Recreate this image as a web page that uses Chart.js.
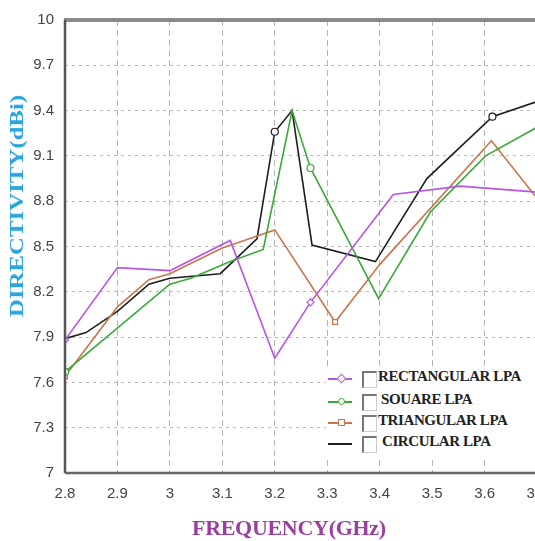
<!DOCTYPE html>
<html>
<head>
<meta charset="utf-8">
<script src="https://cdn.jsdelivr.net/npm/chart.js@4"></script>
<style>
  html, body { margin: 0; padding: 0; background: #fff; overflow: hidden; }
  #wrap { position: relative; width: 535px; height: 541px; overflow: hidden; }
  canvas { position: absolute; left: 0; top: 0; }
  .ttl { position: absolute; font-family: "Liberation Serif", "Times New Roman", serif; font-weight: bold; white-space: nowrap; line-height: 1; }
  #xtitle { left: 192px; top: 517px; font-size: 22px; color: #9a3f9f; letter-spacing: -0.3px; }
  #ytitle { left: 17px; top: 206px; font-size: 18px; color: #2aa4dd; transform: translate(-50%, -50%) rotate(-90deg) scaleX(1.38); }
  #legend { position: absolute; left: 326px; top: 367px; width: 215px; height: 91px; background: #fff; }
  .row { position: absolute; left: 2px; height: 20px; }
  .row .ln { position: absolute; left: 0; top: 9px; width: 24px; height: 2px; }
  .row .mk { position: absolute; left: 10px; top: 6px; width: 5px; height: 5px; border: 1.5px solid; background: #fff; }
  .row .cb { position: absolute; left: 34px; top: 2px; width: 12px; height: 14px; border-left: 2px solid #777; border-top: 2px solid #777; border-right: 1px solid #ccc; border-bottom: 1px solid #ccc; }
  .row .tx { position: absolute; left: 50px; top: -1px; font-family: "Liberation Serif", "Times New Roman", serif; font-weight: bold; font-size: 15px; color: #222; white-space: nowrap; letter-spacing: -0.4px; }
</style>
</head>
<body>
<div id="wrap">
  <canvas id="chart" width="560" height="541"></canvas>
  <div id="ytitle" class="ttl">DIRECTIVITY(dBi)</div>
  <div id="xtitle" class="ttl">FREQUENCY(GHz)</div>
  <div id="legend"></div>
</div>
<script>
/* ── Data ── */
const rectFreq   = [2.8, 2.9, 3.0, 3.115, 3.2, 3.268, 3.426, 3.554, 3.7];
const rectDir    = [7.88, 8.36, 8.34, 8.54, 7.76, 8.13, 8.845, 8.90, 8.86];

const squareFreq = [2.8, 3.0, 3.04, 3.115, 3.178, 3.233, 3.268, 3.398, 3.497, 3.602, 3.7];
const squareDir  = [7.67, 8.25, 8.29, 8.40, 8.48, 9.40, 9.02, 8.155, 8.73, 9.10, 9.29];

const triFreq    = [2.8, 2.9, 2.96, 3.0, 3.1, 3.2, 3.315, 3.4, 3.613, 3.7];
const triDir     = [7.64, 8.10, 8.28, 8.32, 8.49, 8.61, 8.00, 8.38, 9.20, 8.82];

const circFreq   = [2.8, 2.84, 2.9, 2.96, 3.0, 3.096, 3.166, 3.2, 3.233, 3.271, 3.392, 3.49, 3.615, 3.7];
const circDir    = [7.89, 7.93, 8.07, 8.25, 8.29, 8.32, 8.55, 9.26, 9.40, 8.51, 8.40, 8.95, 9.36, 9.46];

const seriesNames = ['RECTANGULAR LPA', 'SOUARE LPA', 'TRIANGULAR LPA', 'CIRCULAR LPA'];
const xTicks = [2.8, 2.9, 3.0, 3.1, 3.2, 3.3, 3.4, 3.5, 3.6, 3.7];
const yTicks = [7, 7.3, 7.6, 7.9, 8.2, 8.5, 8.8, 9.1, 9.4, 9.7, 10];

/* ── Styles ── */
const COLORS  = ['#b655e6', '#3aa83a', '#c8764c', '#1e1e1e'];
const MARKERS = [[0, 5], [0, 6], [0, 6], [7, 12]];
const SHAPES  = ['rectRot', 'circle', 'rect', 'circle'];

const toPts = (xs, ys) => xs.map((x, i) => ({ x, y: ys[i] }));
const allSeries = [
  toPts(rectFreq, rectDir),
  toPts(squareFreq, squareDir),
  toPts(triFreq, triDir),
  toPts(circFreq, circDir),
];

const datasets = allSeries.map((pts, s) => ({
  label: seriesNames[s],
  data: pts,
  borderColor: COLORS[s],
  borderWidth: 1.6,
  backgroundColor: '#fff',
  pointBorderColor: COLORS[s],
  pointBorderWidth: 1.2,
  pointStyle: SHAPES[s],
  pointRadius: ctx => MARKERS[s].includes(ctx.dataIndex) ? 3.5 : 0,
  tension: 0,
  showLine: true,
}));

/* frame: left + bottom axis lines, thick grey top */
const framePlugin = {
  id: 'frame',
  afterDatasetsDraw(chart) {
    const { ctx, chartArea: a } = chart;
    ctx.save();
    ctx.lineCap = 'butt';
    ctx.strokeStyle = '#8a8a8a';
    ctx.lineWidth = 4;
    ctx.beginPath(); ctx.moveTo(a.left - 1, a.top); ctx.lineTo(a.right + 30, a.top); ctx.stroke();
    ctx.strokeStyle = '#555';
    ctx.lineWidth = 2.5;
    ctx.beginPath(); ctx.moveTo(a.left, a.top); ctx.lineTo(a.left, a.bottom); ctx.stroke();
    ctx.strokeStyle = '#666';
    ctx.lineWidth = 2.5;
    ctx.beginPath(); ctx.moveTo(a.left, a.bottom); ctx.lineTo(a.right + 30, a.bottom); ctx.stroke();
    ctx.restore();
  },
};

const TICK_FONT = { family: '"Liberation Sans Narrow", "Liberation Sans", Arial, sans-serif', size: 15 };

new Chart(document.getElementById('chart'), {
  type: 'scatter',
  data: { datasets },
  options: {
    responsive: false,
    animation: false,
    layout: { padding: { top: 16, right: 23, left: 0, bottom: 0 } },
    plugins: { legend: { display: false }, tooltip: { enabled: false } },
    scales: {
      x: {
        type: 'linear',
        min: 2.8, max: 3.7,
        afterBuildTicks: sc => { sc.ticks = xTicks.map(v => ({ value: v })); },
        afterFit: sc => { sc.height = 68; },
        ticks: { color: '#444', font: TICK_FONT, padding: 12, callback: v => String(+v.toFixed(1)) },
        grid: { color: '#b4b4b4', lineWidth: 1, drawTicks: false },
        border: { display: false, dash: [6, 4] },
      },
      y: {
        min: 7, max: 10,
        afterBuildTicks: sc => { sc.ticks = yTicks.map(v => ({ value: v })); },
        afterFit: sc => { sc.width = 65; },
        ticks: { color: '#444', font: TICK_FONT, padding: 11, callback: v => String(+v.toFixed(1)) },
        grid: { color: '#b8b8b8', lineWidth: 1, drawTicks: false },
        border: { display: false, dash: [3, 4] },
      },
    },
  },
  plugins: [framePlugin],
});

/* legend overlay */
const legend = document.getElementById('legend');
const rowTops = [2, 25, 46, 67];
const textLeft = [50, 53, 50, 54];
seriesNames.forEach((name, i) => {
  const row = document.createElement('div');
  row.className = 'row';
  row.style.top = rowTops[i] + 'px';
  const mkRadius = SHAPES[i] === 'circle' ? '50%' : '0';
  const mkRot = SHAPES[i] === 'rectRot' ? 'rotate(45deg)' : 'none';
  row.innerHTML =
    `<span class="ln" style="background:${COLORS[i]}"></span>` +
    (i < 3 ? `<span class="mk" style="border-color:${COLORS[i]};border-radius:${mkRadius};transform:${mkRot}"></span>` : '') +
    `<span class="cb"></span>` +
    `<span class="tx" style="left:${textLeft[i]}px">${name}</span>`;
  legend.appendChild(row);
});
</script>
</body>
</html>
